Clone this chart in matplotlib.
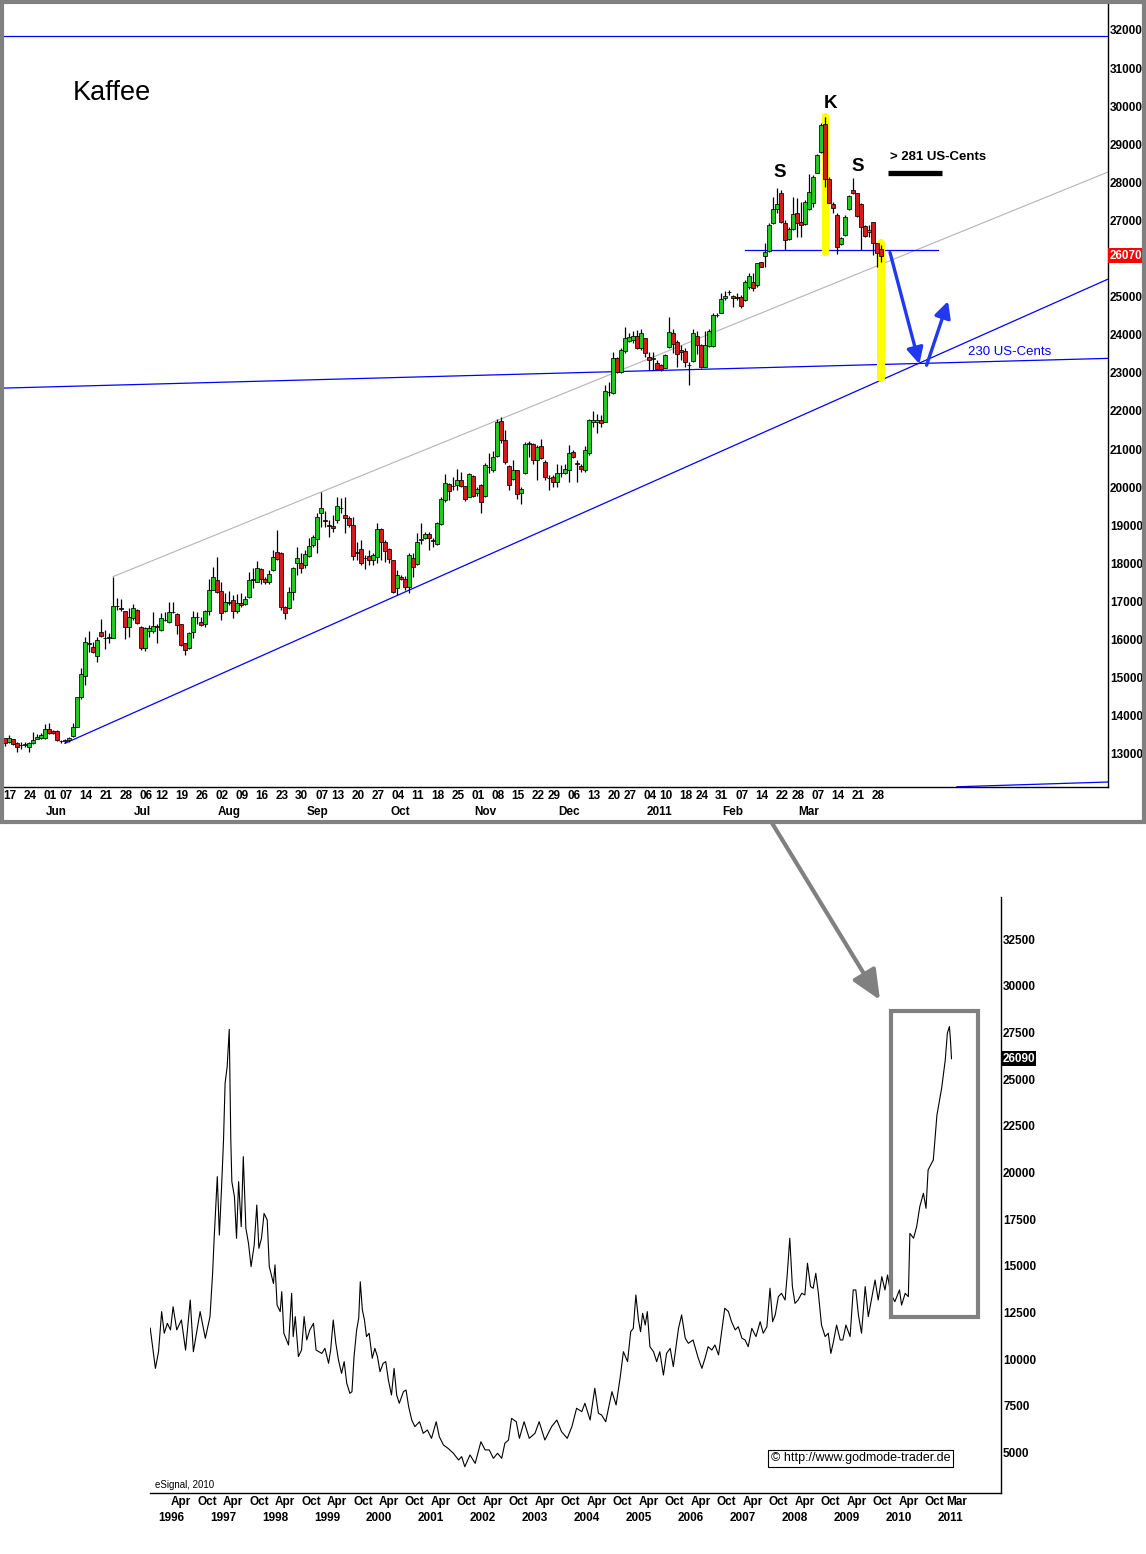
import numpy as np
import pandas as pd
import matplotlib
matplotlib.use("Agg")
import matplotlib.pyplot as plt
from matplotlib.patches import Rectangle, FancyArrowPatch
from matplotlib.transforms import blended_transform_factory, IdentityTransform

plt.rcParams['font.family'] = ['Liberation Sans', 'DejaVu Sans']

# ---------------- top panel: daily coffee candles (US-cents x 100) ----------------
start_date = "2010-05-17"
end_date = "2011-03-30"
holidays = ["2010-05-31", "2010-07-05", "2010-09-06", "2010-11-25",
            "2010-12-24", "2011-01-03", "2011-01-17", "2011-02-21"]

opens = [13410,13320,13380,13290,13220,13240,13190,13280,13400,13420,
 13410,13640,13600,13600,13330,13340,13360,13480,13710,14480,
 15050,15880,15810,15580,16190,16050,16040,16050,16870,16840,
 16750,16340,16560,16770,16340,15790,16230,16230,16340,16250,
 16500,16470,16720,16660,16400,15900,15770,16190,16580,16470,
 16410,16760,17300,17560,17270,16760,16970,17040,16760,16970,
 16930,17110,17570,17520,17850,17590,17520,17820,18290,18260,
 16850,16820,17260,18000,18000,17960,18200,18480,18640,19310,
 19130,19000,18990,19140,19460,19270,19180,19000,18280,18370,
 18150,18190,18090,18170,18900,18570,18370,18090,17340,17650,
 17600,17390,18130,17970,18610,18660,18770,18600,18500,19020,
 19660,20070,20030,20060,20190,20030,19750,20290,19840,20060,
 19770,20540,20450,20820,21740,21240,20560,20210,20450,19840,
 20360,21140,21130,20710,21080,20670,20250,20270,20140,20360,
 20360,20450,20930,20640,20560,20450,20900,21700,21710,21760,
 21720,22500,22480,23400,23030,23580,23840,23860,23970,23640,
 23910,23420,23370,23270,23210,23140,23670,24040,23800,23600,
 23580,23200,23310,23970,23730,23160,23710,23710,24510,24580,
 24960,25110,25030,25000,25000,24910,25260,25390,25310,25900,
 26080,26200,26940,27300,27710,26940,26510,26770,27200,26970,
 26910,27290,27450,28250,28790,29530,28080,27420,27140,26380,
 26620,27300,27800,27710,27430,26860,26700,26950,26400,26240]

highs = [13410,13490,13390,13300,13300,13300,13300,13560,13510,13550,
 13770,13800,13620,13620,13360,13380,13450,13800,14500,15240,
 16060,16220,15930,16060,16530,16250,16160,17650,17080,17060,
 16760,16840,16920,16790,16350,16320,16380,16710,16410,16690,
 16730,16980,16990,16690,16420,15900,16190,16750,16730,16600,
 16780,17600,17900,18160,17520,17230,17270,17170,17190,17210,
 17130,17770,17870,18070,17870,17650,17820,18350,18880,18310,
 16870,17390,17910,18440,18260,18350,18660,18740,19330,19880,
 19380,19140,19270,19750,19710,19750,19250,19210,18570,18610,
 18220,18350,18280,19070,18920,18610,18390,18100,17820,17690,
 17670,18260,18260,18790,19050,18830,18830,18660,19090,19740,
 20340,20100,20270,20470,20410,20040,20380,20320,20010,20070,
 20630,20890,20960,21780,21830,21500,20580,20710,20460,20010,
 21190,21210,21150,21110,21260,20710,20320,20320,20620,20580,
 20620,21110,20980,20710,20620,21080,21780,22000,21930,21890,
 22680,22770,23540,23420,23660,24210,24050,24110,24130,24150,
 23920,23540,23560,23340,23230,23490,24460,24140,23860,23730,
 23640,23290,24160,24110,23760,24110,24160,24560,24580,25090,
 25150,25180,25050,25100,25040,25440,25610,25610,25890,25920,
 26400,26930,27610,27860,27800,27010,26840,27610,27580,27490,
 27540,28210,28190,28750,29550,29720,28150,27490,27190,26560,
 27140,27670,28110,27730,27460,26880,26880,26970,26410,26360]

lows = [13210,13290,13230,13040,13120,13170,13050,13250,13380,13400,
 13380,13530,13510,13340,13280,13280,13320,13450,13700,14450,
 14810,15680,15640,15420,16070,15750,15900,16030,16770,16750,
 16010,16060,16510,16420,15720,15700,16070,16160,15920,16220,
 16490,16440,16690,16140,15830,15590,15760,16030,16420,16350,
 16340,16640,17290,17210,16510,16730,16900,16560,16690,16860,
 16910,17100,17340,17500,17470,17470,17470,17800,18090,16770,
 16540,16790,17040,17690,17740,17890,18160,18440,18280,18960,
 18960,18700,18830,19070,19310,18790,18950,18090,18090,17960,
 17840,17960,17960,18020,18090,18040,18020,17210,17170,17560,
 17300,17210,17650,17960,18520,18630,18350,18440,18480,19000,
 19620,19660,19920,19930,20010,19640,19730,19740,19780,19310,
 19740,20360,20410,20780,21150,20620,19920,20190,19680,19560,
 20340,20800,20620,20190,20730,20190,19920,20010,20010,20270,
 20340,20140,20760,20140,20410,20410,20840,21590,21410,21590,
 21700,22380,22450,23000,22990,23530,23820,23780,23620,23600,
 23420,23070,23080,23070,23050,23120,23640,23510,23160,23340,
 23160,22680,23290,23500,23120,23150,23690,23670,24470,24560,
 24910,25040,24740,24900,24690,24890,25190,25160,25260,25770,
 25790,26180,26920,27190,26930,26220,26490,26750,26570,26570,
 26880,27270,27360,28240,28760,27890,27450,27190,26120,26360,
 26590,27270,27690,27100,26220,26570,26560,26090,25790,25920]

closes = [13280,13410,13260,13170,13240,13260,13280,13360,13450,13490,
 13640,13540,13540,13360,13340,13340,13420,13700,14480,15100,
 15930,15900,15670,16000,16100,16030,16060,16870,16890,16800,
 16340,16580,16820,16440,15790,16290,16290,16360,16330,16560,
 16520,16710,16730,16380,15860,15720,16160,16580,16590,16380,
 16750,17300,17630,17240,16690,16980,16980,16760,16970,16910,
 17060,17560,17590,17870,17580,17520,17720,18160,18120,16860,
 16690,17240,17870,18130,17870,18240,18450,18680,19220,19440,
 19110,18980,18940,19510,19450,19180,19000,18200,18300,18020,
 18140,18090,18220,18900,18570,18330,18110,17240,17690,17580,
 17370,18220,17910,18570,18630,18770,18660,18590,19070,19690,
 20100,19910,20040,20190,20040,19680,20340,19780,19940,19620,
 20580,20520,20800,21700,21240,20670,20060,20450,19810,19950,
 21130,21150,20710,21060,20760,20270,20240,20140,20360,20370,
 20470,20900,20780,20620,20470,20980,21760,21760,21760,21680,
 22520,22490,23400,23030,23600,23910,23950,23970,23640,24040,
 23510,23340,23390,23090,23090,23470,24060,23770,23500,23540,
 23280,23210,24040,23730,23150,23730,24110,24520,24530,24930,
 25030,25120,24960,24960,24760,25390,25550,25220,25880,25790,
 26160,26880,27290,27430,26970,26490,26770,27160,26940,26880,
 27490,27760,28130,28720,29510,28080,27470,27340,26310,26530,
 27100,27640,27710,27120,26840,26600,26760,26400,26150,26070]

top_yticks = [13000, 14000, 15000, 16000, 17000, 18000, 19000, 20000, 21000,
              22000, 23000, 24000, 25000, 27000, 28000, 29000, 30000, 31000, 32000]
last_close_top = 26070

# ---------------- bottom panel: weekly closes 1995-2011 ----------------
weekly_time = [
 1995.85,1995.90,1995.95,1996.01,1996.07,1996.12,1996.18,1996.24,1996.29,1996.36,
 1996.45,1996.53,1996.62,1996.68,1996.81,1996.91,1997.00,1997.05,1997.08,1997.14,
 1997.18,1997.22,1997.26,1997.29,1997.33,1997.37,1997.40,1997.42,1997.47,1997.51,
 1997.55,1997.60,1997.64,1997.69,1997.74,1997.79,1997.85,1997.90,1997.94,1997.99,
 1998.04,1998.10,1998.14,1998.22,1998.25,1998.29,1998.35,1998.38,1998.42,1998.51,
 1998.57,1998.60,1998.64,1998.70,1998.76,1998.81,1998.86,1998.92,1998.99,1999.04,
 1999.15,1999.21,1999.28,1999.32,1999.37,1999.42,1999.47,1999.53,1999.58,1999.63,
 1999.69,1999.73,1999.77,1999.82,1999.86,1999.89,1999.93,1999.97,2000.01,2000.06,
 2000.12,2000.17,2000.22,2000.27,2000.33,2000.38,2000.43,2000.49,2000.54,2000.59,
 2000.64,2000.72,2000.77,2000.82,2000.88,2000.94,2001.03,2001.10,2001.18,2001.26,
 2001.35,2001.41,2001.49,2001.58,2001.68,2001.78,2001.84,2001.90,2002.00,2002.10,
 2002.21,2002.29,2002.37,2002.45,2002.53,2002.61,2002.67,2002.74,2002.80,2002.89,
 2002.95,2003.04,2003.14,2003.25,2003.33,2003.44,2003.57,2003.67,2003.76,2003.87,
 2003.96,2004.05,2004.15,2004.21,2004.31,2004.40,2004.47,2004.53,2004.61,2004.73,
 2004.81,2004.89,2004.95,2005.03,2005.09,2005.14,2005.19,2005.24,2005.28,2005.32,
 2005.37,2005.41,2005.46,2005.53,2005.59,2005.65,2005.72,2005.78,2005.85,2005.91,
 2006.01,2006.07,2006.14,2006.20,2006.29,2006.39,2006.46,2006.52,2006.58,2006.65,
 2006.71,2006.78,2006.84,2006.90,2006.97,2007.03,2007.10,2007.16,2007.23,2007.29,
 2007.35,2007.42,2007.50,2007.58,2007.64,2007.71,2007.77,2007.82,2007.87,2007.93,
 2007.99,2008.06,2008.10,2008.15,2008.20,2008.25,2008.31,2008.38,2008.44,2008.49,
 2008.55,2008.60,2008.65,2008.70,2008.76,2008.83,2008.89,2008.94,2008.99,2009.05,
 2009.12,2009.17,2009.23,2009.31,2009.37,2009.42,2009.47,2009.53,2009.60,2009.66,
 2009.73,2009.79,2009.85,2009.92,2009.98,2010.03,2010.09,2010.17,2010.26,2010.30,
 2010.37,2010.43,2010.46,2010.53,2010.59,2010.65,2010.72,2010.77,2010.81,2010.91,
 2010.98,2011.03,2011.07,2011.14,2011.18,2011.22,2011.24,2011.26]
weekly_price = [
 11650,10570,9500,10390,12540,11380,11910,11560,12800,11560,
 12090,10480,13160,10390,12540,11110,12270,14590,16470,19770,
 16640,19050,21730,24770,25660,27660,21730,19500,18690,16470,
 19500,17090,20840,17000,16200,14950,16110,18250,15930,16470,
 17800,17450,14950,14050,15040,12890,12540,13610,11380,10750,
 13520,11200,12270,10130,10480,12270,11020,11560,11910,10480,
 10300,10570,9770,10480,12090,10840,9950,9230,9860,8700,
 8160,8250,10130,11560,12180,14140,12630,12090,11200,11380,
 10040,10570,10130,9320,9770,9860,8880,8070,9500,8070,
 7630,8250,8340,7450,6730,6380,6640,6020,6200,5750,
 6640,5840,5390,5210,4950,4590,4770,4230,4860,4410,
 5570,5130,5130,4680,4950,4680,5480,5660,6820,6640,
 5750,6640,5750,6020,6640,5660,6380,6730,6110,5750,
 6380,7360,7180,7630,6730,8430,7090,7000,6640,8250,
 7540,9050,10390,9860,11460,11640,13430,12090,11460,12450,
 11820,12540,10660,10390,9860,10390,9140,10300,10570,9590,
 11640,12360,11110,10840,11020,10040,9500,10040,10660,10480,
 10750,10220,11460,12720,12540,12000,11560,11730,11110,11020,
 10660,11640,11200,12000,11380,11730,13790,12000,12360,13340,
 13520,13160,14500,16470,13880,12980,13160,13520,13430,15130,
 13880,13790,14590,13520,11820,11200,11380,10300,10930,11820,
 11020,11020,11820,11200,13700,13700,12360,11380,13880,12270,
 13340,14230,13160,14410,13700,14500,13520,13070,13700,12890,
 13520,13340,16730,16470,17090,18160,18880,18070,20130,20660,
 23070,23880,24500,26020,27450,27810,27090,26090]
bottom_yticks = [5000, 7500, 10000, 12500, 15000, 17500, 20000, 22500,
                 25000, 27500, 30000, 32500]
last_close_bottom = 26090
half_year_labels = ["Apr", "Oct"]
years = list(range(1996, 2012))

# ---------------- figure ----------------
W, H = 1146, 1554
fig = plt.figure(figsize=(W / 100, H / 100), dpi=100)
fig.patch.set_facecolor("white")


def box(x0, y0, x1, y1):
    return [x0 / W, 1 - y1 / H, (x1 - x0) / W, (y1 - y0) / H]


LBL = dict(fontsize=8.5, fontweight="bold", color="black")

# ======== TOP PANEL ========
ax = fig.add_axes(box(4, 4, 1108, 787))
dates = pd.bdate_range(start_date, end_date)
dates = dates[~dates.isin(pd.to_datetime(holidays))]
n = len(closes)
idx = np.arange(n)
o = np.array(opens, float); c = np.array(closes, float)
h = np.array(highs, float); l = np.array(lows, float)
lo_b = np.minimum(o, c); hi_b = np.maximum(o, c)
ax.vlines(idx, np.minimum(l, lo_b), np.maximum(h, hi_b), color="black", lw=0.9, zorder=3)
up = c >= o
ax.bar(idx, np.maximum(hi_b - lo_b, 12), bottom=lo_b, width=0.85,
       color=np.where(up, "#22c922", "#d41c1c"), edgecolor="black",
       linewidth=0.55, zorder=4)

ax.set_xlim(-0.25, 275.75)
ax.set_ylim(12129, 32682)
for s in ["left", "top"]:
    ax.spines[s].set_visible(False)
for s in ["right", "bottom"]:
    ax.spines[s].set_linewidth(1.0)
ax.set_xticks([])
ax.yaxis.tick_right()
ax.set_yticks(top_yticks)
ax.set_yticklabels([str(v) for v in top_yticks], **LBL)
ax.tick_params(axis="y", length=0, pad=1.5)

# trend lines
blue = "#0000ff"
ax.plot([-0.25, 275.75], [31850, 31850], color=blue, lw=0.9, zorder=2)
ax.plot([-0.25, 275.75], [22600, 23380], color=blue, lw=0.9, zorder=2)
ax.plot([15, 275.75], [13276, 25460], color=blue, lw=0.9, zorder=2)
ax.plot([27, 275.75], [17650, 28272], color="#b4b4b4", lw=0.8, zorder=2)
ax.plot([185, 233.25], [26220, 26220], color=blue, lw=0.9, zorder=2)
ax.plot([238, 275.75], [12135, 12260], color=blue, lw=0.9, zorder=2, clip_on=False)

# yellow measuring bars
ax.plot([205.1, 205.1], [29750, 26180], color="#ffff00", lw=5.2,
        solid_capstyle="round", zorder=2.5)
ax.plot([218.95, 218.95], [26400, 22860], color="#ffff00", lw=5.8,
        solid_capstyle="round", zorder=2.5)

# blue arrows
arrow_blue = "#2038f0"
for (x0, y0, x1, y1) in [(221.25, 26160, 228.6, 23230), (230.4, 23200, 235.75, 24880)]:
    ax.add_patch(FancyArrowPatch((x0, y0), (x1, y1),
                 arrowstyle="-|>,head_length=0.65,head_width=0.33",
                 mutation_scale=15, lw=2.4, color=arrow_blue,
                 shrinkA=0, shrinkB=0, zorder=5))

# texts
ax.text(0.0625, 0.886, "Kaffee", transform=ax.transAxes, fontsize=19.5,
        ha="left", va="center", color="black")
ax.text(206.3, 30060, "K", fontsize=13.5, fontweight="bold", ha="center", va="center")
ax.text(193.8, 28250, "S", fontsize=13.5, fontweight="bold", ha="center", va="center")
ax.text(213.3, 28410, "S", fontsize=13.5, fontweight="bold", ha="center", va="center")
ax.text(221.3, 28660, "> 281 US-Cents", fontsize=9.5, fontweight="bold",
        ha="left", va="center")
ax.plot([220.8, 234.3], [28250, 28250], color="black", lw=3.8,
        solid_capstyle="butt", zorder=5)
ax.text(240.8, 23550, "230 US-Cents", fontsize=9.5, color=blue,
        ha="left", va="center")

# last price tag
tr_r = blended_transform_factory(ax.transAxes, ax.transData)
ax.text(1.0015, last_close_top, str(last_close_top), transform=tr_r, ha="left",
        va="center", color="white", fontsize=8.5, fontweight="bold",
        bbox=dict(boxstyle="square,pad=0.12", fc="#ff0000", ec="none"))

# date axis labels
tr_x = blended_transform_factory(ax.transData, ax.transAxes)
for i, d in enumerate(dates):
    if i == 0 or d.isocalendar()[1] != dates[i - 1].isocalendar()[1]:
        ax.text(i - 0.45, -0.0115, f"{d.day:02d}", transform=tr_x, ha="left",
                va="center", **LBL)
    if i > 0 and d.month != dates[i - 1].month:
        lab = str(d.year) if d.month == 1 else d.strftime("%b")
        ax.text(i + 0.3, -0.0319, lab, transform=tr_x, ha="left", va="center", **LBL)

# ======== BOTTOM PANEL ========
ax2 = fig.add_axes(box(150, 897, 1001, 1493))
ax2.plot(weekly_time, weekly_price, color="black", lw=0.8)
ax2.set_xlim(1995.846, 2012.212)
ax2.set_ylim(2822, 34750)
for s in ["left", "top"]:
    ax2.spines[s].set_visible(False)
for s in ["right", "bottom"]:
    ax2.spines[s].set_linewidth(1.0)
ax2.set_xticks([])
ax2.yaxis.tick_right()
ax2.set_yticks(bottom_yticks)
ax2.set_yticklabels([str(v) for v in bottom_yticks], **LBL)
ax2.tick_params(axis="y", length=0, pad=1.5)

tr2_x = blended_transform_factory(ax2.transData, ax2.transAxes)
for y in years:
    ax2.text(y + 0.0, -0.042, str(y), transform=tr2_x, ha="left", va="center", **LBL)
    if y <= 2010:
        ax2.text(y + 0.25, -0.0151, half_year_labels[0], transform=tr2_x,
                 ha="left", va="center", **LBL)
        ax2.text(y + 0.75, -0.0151, half_year_labels[1], transform=tr2_x,
                 ha="left", va="center", **LBL)
ax2.text(2011.167, -0.0151, "Mar", transform=tr2_x, ha="left", va="center", **LBL)

tr2_r = blended_transform_factory(ax2.transAxes, ax2.transData)
ax2.text(1.0015, last_close_bottom, str(last_close_bottom), transform=tr2_r,
         ha="left", va="center", color="white", fontsize=8.5, fontweight="bold",
         bbox=dict(boxstyle="square,pad=0.12", fc="black", ec="none"))

ax2.add_patch(Rectangle((2010.096, 12251), 1.673, 16392, fill=False,
                        ec="#808080", lw=3.0, zorder=4))

ax2.text(0.835, 0.058, "\u00a9 http://www.godmode-trader.de", transform=ax2.transAxes,
         ha="center", va="center", fontsize=9,
         bbox=dict(boxstyle="square,pad=0.2", fc="white", ec="black", lw=0.8))
fig.text(155 / W, 1 - 1485 / H, "eSignal, 2010", fontsize=7, ha="left", va="center")

# ======== frame & connector ========
fig.add_artist(Rectangle((2 / W, 1 - 822 / H), 1142 / W, 820 / H,
                         transform=fig.transFigure, fill=False, ec="#808080",
                         lw=3, zorder=10))
fig.add_artist(FancyArrowPatch((772, H - 823), (880, H - 1000),
                               transform=IdentityTransform(),
                               arrowstyle="-|>,head_length=0.9,head_width=0.4",
                               mutation_scale=20, lw=3, color="#808080",
                               shrinkA=0, shrinkB=0, zorder=10))

fig.savefig("out.png", dpi=100, facecolor="white")
